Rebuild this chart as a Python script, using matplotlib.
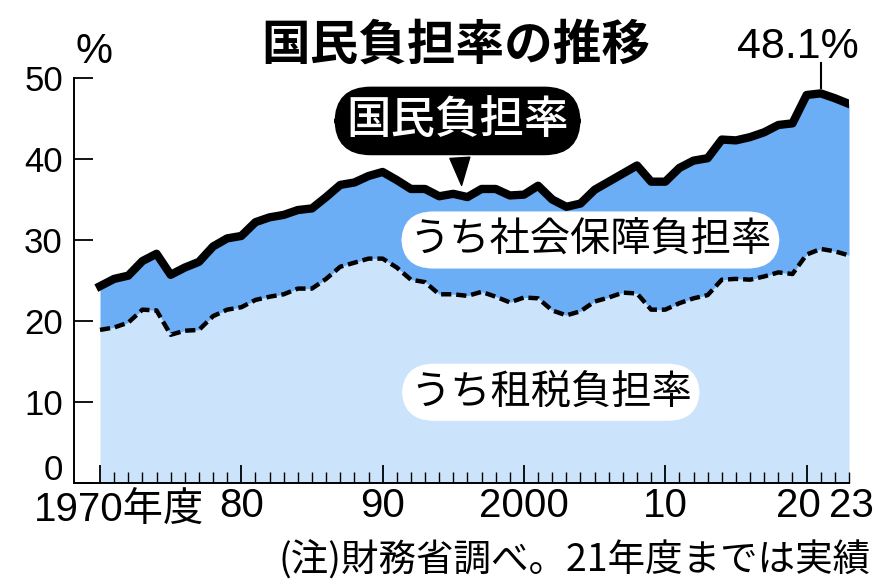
import matplotlib
matplotlib.use('Agg')
import matplotlib.pyplot as plt
import matplotlib.transforms as mtransforms

# 年度
years = list(range(1970, 2024))
# 国民負担率 (%)
total_burden = [24.3, 25.2, 25.6, 27.4, 28.3, 25.7, 26.6, 27.3, 29.2, 30.2,
                30.5, 32.2, 32.8, 33.1, 33.7, 33.9, 35.3, 36.8, 37.1, 37.9,
                38.4, 37.4, 36.3, 36.3, 35.4, 35.7, 35.3, 36.3, 36.3, 35.5,
                35.6, 36.7, 35.0, 34.1, 34.5, 36.2, 37.2, 38.2, 39.2, 37.2,
                37.2, 38.9, 39.8, 40.1, 42.4, 42.3, 42.7, 43.3, 44.2, 44.4,
                47.9, 48.1, 47.5, 46.8]
# うち租税負担率 (%)
tax_burden = [18.9, 19.2, 19.8, 21.4, 21.3, 18.3, 18.8, 18.9, 20.6, 21.4,
              21.7, 22.6, 23.0, 23.3, 24.0, 24.0, 25.2, 26.7, 27.2, 27.7,
              27.7, 26.6, 25.1, 24.8, 23.3, 23.3, 23.1, 23.6, 23.0, 22.3,
              22.9, 22.8, 21.3, 20.7, 21.2, 22.4, 22.9, 23.5, 23.4, 21.4,
              21.4, 22.2, 22.8, 23.2, 25.1, 25.2, 25.1, 25.5, 26.0, 25.8,
              28.2, 28.9, 28.6, 28.1]
major_years = [1970, 1980, 1990, 2000, 2010, 2020]
major_labels = ['', '80', '90', '2000', '10', '']
y_ticks = [0, 10, 20, 30, 40, 50]

jp = 'Noto Sans CJK JP'
lib = 'Liberation Sans'
plt.rcParams['font.family'] = [jp, 'DejaVu Sans']

W, H = 887, 587
fig = plt.figure(figsize=(W / 100, H / 100), dpi=100)
ax = fig.add_axes([74 / W, 1 - 483 / H, (849 - 74) / W, (483 - 78) / H])

light = '#cce4fb'
blue = '#6caef6'
ax.fill_between(years, 0, tax_burden, color=light, lw=0)
ax.fill_between(years, tax_burden, total_burden, color=blue, lw=0)
ax.plot(years, tax_burden, color='black', lw=3.2, dashes=(2.3, 1.1))
ax.plot(years, total_burden, color='black', lw=6, solid_joinstyle='round')

ax.set_xlim(1970 - 26 / 14.13, 2023)
ax.set_ylim(0, 50)
for s in ['top', 'right']:
    ax.spines[s].set_visible(False)
for s in ['left', 'bottom']:
    ax.spines[s].set_linewidth(1.4)

ax.set_yticks(y_ticks)
ax.set_yticklabels([''] + [str(v) for v in y_ticks[1:]], family=lib, fontsize=25)
ax.tick_params(axis='y', direction='in', length=14, width=1.3, pad=8)
# 0 は少し上に
fig.text(63 / W, 1 - 470 / H, '0', ha='right', va='center', family=lib, fontsize=25)

ax.set_xticks(major_years)
ax.set_xticks(years, minor=True)
ax.set_xticklabels(major_labels, family=[lib, jp], fontsize=29)
ax.tick_params(axis='x', which='major', direction='in', length=13, width=1.3, pad=3)
ax.tick_params(axis='x', which='minor', direction='in', length=8, width=1.0)

trans = mtransforms.blended_transform_factory(ax.transData, ax.transAxes)
ax.text(1970 - 66 / 14.13, -0.02, '1970年度', transform=trans, ha='left', va='top',
        family=[lib, jp], fontsize=29)
# 20 と 23 は詰まるので位置を指定
fig.text(798 / W, 1 - 487 / H, '20', ha='center', va='top', family=lib, fontsize=29)
fig.text(874 / W, 1 - 487 / H, '23', ha='right', va='top', family=lib, fontsize=29)

# labels
ax.annotate('国民負担率', xy=(1995.6, 36.4), xytext=(1995.3, 44.7),
            ha='center', va='center', color='white', fontsize=32, fontweight='medium',
            bbox=dict(boxstyle='round,pad=0.25,rounding_size=0.8', fc='black', ec='black'),
            arrowprops=dict(arrowstyle='wedge,tail_width=0.45', fc='black', ec='black'))
ax.text(2004.7, 30.0, 'うち社会保障負担率', ha='center', va='center', fontsize=29,
        bbox=dict(boxstyle='round,pad=0.2,rounding_size=0.8', fc='white', ec='none'))
ax.text(2001.9, 11.2, 'うち租税負担率', ha='center', va='center', fontsize=29,
        bbox=dict(boxstyle='round,pad=0.2,rounding_size=0.8', fc='white', ec='none'))

ax.plot([2021, 2021], [48.8, 51.9], color='black', lw=1.5, clip_on=False)

fig.text(0.514, 0.923, '国民負担率の推移', ha='center', va='center', fontsize=35, fontweight='bold')
fig.text(0.106, 0.911, '%', ha='center', va='center', family=lib, fontsize=30)
fig.text(0.899, 0.920, '48.1%', ha='center', va='center', family=lib, fontsize=31)
fig.text(0.981, 0.046, '(注)財務省調べ。21年度までは実績', ha='right', va='center', fontsize=27)

fig.savefig('out.png', dpi=100)
